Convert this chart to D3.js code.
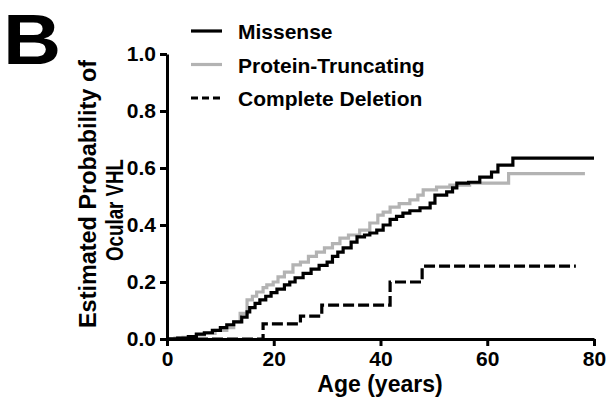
<!DOCTYPE html>
<html>
<head>
<meta charset="utf-8">
<script src="https://cdn.jsdelivr.net/npm/d3@7"></script>
<style>
  html, body { margin: 0; padding: 0; background: #fff; }
  svg { display: block; }
  text { font-family: Arial, "Liberation Sans", Helvetica, sans-serif; font-weight: bold; fill: #000; }
</style>
</head>
<body>
<svg id="chart" width="606" height="397"></svg>
<script>
// Kaplan-Meier steps: [age, probability]
var missense = [
  [0, 0], [2, 0.003], [4, 0.008], [5.5, 0.017], [7, 0.022], [8.5, 0.03], [10, 0.04],
  [11.2, 0.05], [12.5, 0.06], [14, 0.077], [15, 0.095], [15.5, 0.11], [16.5, 0.125],
  [17.4, 0.137], [18.5, 0.15], [19.5, 0.163], [20.6, 0.175], [22, 0.19], [23, 0.2],
  [24, 0.215], [25.5, 0.23], [27, 0.245], [28.5, 0.258], [30, 0.27], [31, 0.29],
  [32, 0.305], [33, 0.32], [34.5, 0.34], [35.6, 0.358], [37, 0.365], [38, 0.372],
  [39.3, 0.382], [40.5, 0.4], [41.8, 0.42], [43, 0.43], [44.2, 0.442], [45.5, 0.45],
  [47.4, 0.46], [49.3, 0.477], [50.2, 0.505], [52.4, 0.516], [53.5, 0.53], [54.3, 0.547],
  [56.5, 0.55], [58.6, 0.568], [60.8, 0.586], [62, 0.61], [64.8, 0.635], [80, 0.635]
];
var truncating = [
  [0, 0], [1.5, 0.003], [3, 0.006], [5.5, 0.014], [7, 0.02], [9, 0.03], [11.2, 0.04],
  [12.5, 0.06], [13.7, 0.09], [15, 0.137], [16, 0.15], [16.8, 0.165], [18, 0.18],
  [18.7, 0.19], [19.9, 0.2], [20.8, 0.218], [22, 0.235], [23.6, 0.26], [25, 0.27],
  [26.5, 0.29], [28, 0.305], [29.5, 0.32], [31, 0.335], [32.4, 0.354], [34, 0.365],
  [36.1, 0.382], [38, 0.407], [39.5, 0.435], [40.5, 0.445], [41.8, 0.463], [43.5, 0.475],
  [45.5, 0.488], [47, 0.505], [48, 0.523], [50.5, 0.533], [53, 0.54], [56.7, 0.547],
  [64, 0.58], [78.3, 0.58]
];
var deletion = [
  [0, 0], [18, 0.053], [25, 0.08], [29, 0.119], [41.8, 0.2], [47.8, 0.256], [76.6, 0.256]
];

var seriesNames = ['Missense', 'Protein-Truncating', 'Complete Deletion'];
var xTicks = [0, 20, 40, 60, 80];
var yTicks = [0, 0.2, 0.4, 0.6, 0.8, 1.0];

(function (d3) {
  'use strict';
  var svg = d3.select('#chart');

  var x = d3.scaleLinear().domain([0, 80]).range([167, 594]);
  var y = d3.scaleLinear().domain([0, 1]).range([339, 54]);

  var styles = [
    { color: '#000', dash: null },
    { color: '#b3b3b3', dash: null },
    { color: '#000', dash: '11,4' }
  ];
  var seriesData = [missense, truncating, deletion];

  /** Curves */
  var line = d3.line()
    .x(function (d) { return x(d[0]); })
    .y(function (d) { return y(d[1]); })
    .curve(d3.curveStepAfter);

  // draw grey first so black sits on top like the original
  [1, 0, 2].forEach(function (i) {
    svg.append('path')
      .datum(seriesData[i])
      .attr('d', line)
      .attr('fill', 'none')
      .attr('stroke', styles[i].color)
      .attr('stroke-width', 3.2)
      .attr('stroke-dasharray', styles[i].dash);
  });

  /** Axes */
  var styleAxis = function (g) {
    g.selectAll('.domain, .tick line').attr('stroke', '#000').attr('stroke-width', 3);
    g.selectAll('text').attr('font-size', 21).attr('font-weight', 'bold')
      .attr('font-family', 'Arial, "Liberation Sans", sans-serif').attr('fill', '#000');
  };

  svg.append('g')
    .attr('transform', 'translate(0,' + y(0) + ')')
    .call(d3.axisBottom(x).tickValues(xTicks).tickSize(7).tickSizeOuter(0).tickPadding(5)
      .tickFormat(d3.format('d')))
    .call(styleAxis);

  svg.append('g')
    .attr('transform', 'translate(' + x(0) + ',0)')
    .call(d3.axisLeft(y).tickValues(yTicks).tickSize(7).tickSizeOuter(0).tickPadding(4)
      .tickFormat(d3.format('.1f')))
    .call(styleAxis);

  /** Titles */
  svg.append('text')
    .attr('x', 380)
    .attr('y', 392)
    .attr('text-anchor', 'middle')
    .attr('font-size', 23)
    .text('Age (years)');

  svg.append('text')
    .attr('transform', 'translate(96,194) rotate(-90)')
    .attr('text-anchor', 'middle')
    .attr('font-size', 23)
    .attr('textLength', 268)
    .attr('lengthAdjust', 'spacingAndGlyphs')
    .text('Estimated Probability of');

  svg.append('text')
    .attr('transform', 'translate(123,210) rotate(-90)')
    .attr('text-anchor', 'middle')
    .attr('font-size', 23)
    .attr('textLength', 102)
    .attr('lengthAdjust', 'spacingAndGlyphs')
    .text('Ocular VHL');

  svg.append('text')
    .attr('transform', 'translate(3,64) scale(1.15,1)')
    .attr('font-size', 70)
    .text('B');

  /** Legend */
  var legend = svg.append('g').selectAll('g').data(seriesNames).enter().append('g')
    .attr('transform', function (d, i) { return 'translate(191,' + (31 + i * 33.5) + ')'; });
  legend.append('line')
    .attr('x1', 0).attr('x2', 31).attr('y1', 0).attr('y2', 0)
    .attr('stroke', function (d, i) { return styles[i].color; })
    .attr('stroke-width', 3.2)
    .attr('stroke-dasharray', function (d, i) { return styles[i].dash ? '7,4' : null; });
  legend.append('text')
    .attr('x', 47)
    .attr('y', 8)
    .attr('font-size', 21)
    .text(function (d) { return d; });
})(d3);
</script>
</body>
</html>
